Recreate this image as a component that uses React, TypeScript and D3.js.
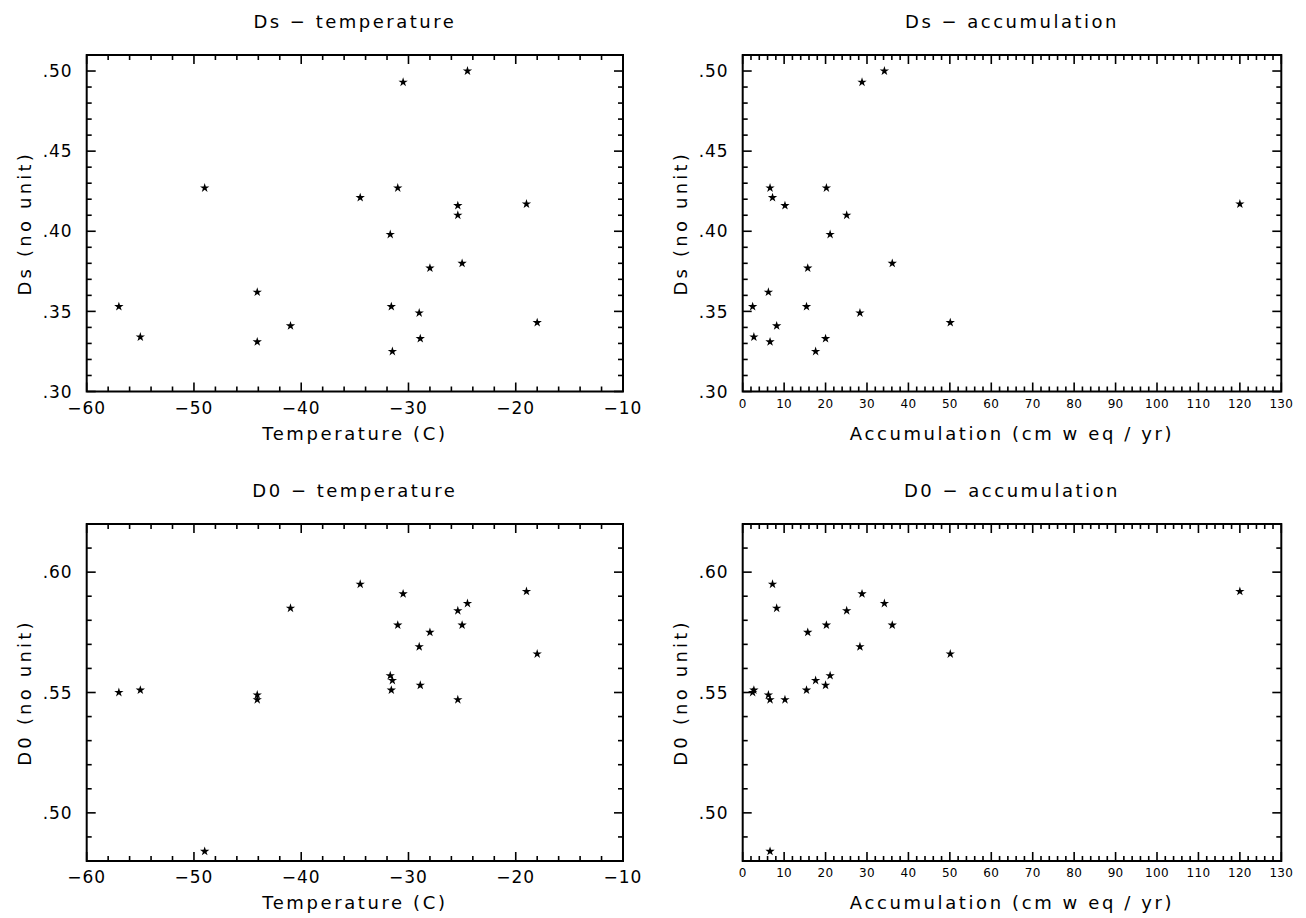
import React from 'react';
import * as d3 from 'd3';

// One entry per site (same order in every array)
const temperature = [-57.0, -55.0, -49.0, -44.1, -44.1, -41.0, -34.5, -31.7, -31.6, -31.5, -31.0, -30.5, -29.0, -28.9, -28.0, -25.4, -25.4, -25.0, -24.5, -19.0, -18.0];
const accumulation = [2.4, 2.7, 6.6, 6.2, 6.6, 8.2, 7.2, 21.1, 15.4, 17.6, 20.2, 28.8, 28.3, 20.0, 15.7, 10.2, 25.1, 36.1, 34.2, 120.0, 50.1];
const dsValues = [0.353, 0.334, 0.427, 0.362, 0.331, 0.341, 0.421, 0.398, 0.353, 0.325, 0.427, 0.493, 0.349, 0.333, 0.377, 0.416, 0.410, 0.380, 0.500, 0.417, 0.343];
const d0Values = [0.550, 0.551, 0.484, 0.549, 0.547, 0.585, 0.595, 0.557, 0.551, 0.555, 0.578, 0.591, 0.569, 0.553, 0.575, 0.547, 0.584, 0.578, 0.587, 0.592, 0.566];

const tempTicks = [-60, -50, -40, -30, -20, -10];
const accTicks = [0, 10, 20, 30, 40, 50, 60, 70, 80, 90, 100, 110, 120, 130];
const dsTicks = [0.30, 0.35, 0.40, 0.45, 0.50];
const d0Ticks = [0.50, 0.55, 0.60];

const FONT = "'DejaVu Sans', sans-serif";

type PanelProps = {
  x0: number; x1: number; y0: number; y1: number;
  xDomain: [number, number]; yDomain: [number, number];
  xMajor: number[]; xMinorStep: number;
  yMajor: number[]; yMinorStep: number;
  xs: number[]; ys: number[];
  title: string; xLabel: string; yLabel: string;
  xTickSize: number;
};

const fmtY = (v: number) => d3.format('.2f')(v).replace(/^0/, '');
const fmtX = d3.format('d');

function Panel(p: PanelProps) {
  const x = d3.scaleLinear().domain(p.xDomain).range([p.x0, p.x1]);
  const y = d3.scaleLinear().domain(p.yDomain).range([p.y1, p.y0]);
  const nx = Math.round((p.xDomain[1] - p.xDomain[0]) / p.xMinorStep);
  const ny = Math.round((p.yDomain[1] - p.yDomain[0]) / p.yMinorStep);
  const xMinor = d3.range(nx + 1).map(i => p.xDomain[0] + i * p.xMinorStep);
  const yMinor = d3.range(ny + 1).map(i => p.yDomain[0] + i * p.yMinorStep);
  const isMajor = (v: number, arr: number[]) => arr.some(m => Math.abs(m - v) < 1e-6);
  const star = d3.symbol(d3.symbolStar, 27)() as string;
  const MAJ = 9, MIN = 5;
  const cx = (p.x0 + p.x1) / 2;
  const cy = (p.y0 + p.y1) / 2;
  const big = p.xTickSize > 14;
  return (
    <g>
      <text x={cx} y={p.y0 - 27} textAnchor="middle" fontSize={18} letterSpacing={2.5} fontFamily={FONT}>{p.title}</text>
      <rect x={p.x0} y={p.y0} width={p.x1 - p.x0} height={p.y1 - p.y0} fill="none" stroke="#000" strokeWidth={2} />
      {xMinor.map((v, i) => {
        const L = isMajor(v, p.xMajor) ? MAJ : MIN;
        const xx = x(v);
        return (
          <g key={'xt' + i}>
            <line x1={xx} x2={xx} y1={p.y1} y2={p.y1 - L} stroke="#000" strokeWidth={1.6} />
            <line x1={xx} x2={xx} y1={p.y0} y2={p.y0 + L} stroke="#000" strokeWidth={1.6} />
          </g>
        );
      })}
      {yMinor.map((v, i) => {
        const L = isMajor(v, p.yMajor) ? MAJ : MIN;
        const yy = y(v);
        return (
          <g key={'yt' + i}>
            <line x1={p.x0} x2={p.x0 + L} y1={yy} y2={yy} stroke="#000" strokeWidth={1.6} />
            <line x1={p.x1} x2={p.x1 - L} y1={yy} y2={yy} stroke="#000" strokeWidth={1.6} />
          </g>
        );
      })}
      {p.xMajor.map((v, i) => (
        <text key={'xl' + i} x={x(v)} y={p.y1 + (big ? 22 : 16)} textAnchor="middle"
          fontSize={big ? 17 : 12} letterSpacing={big ? 1 : 0.3} fontFamily={FONT}>{fmtX(v)}</text>
      ))}
      {p.yMajor.map((v, i) => (
        <text key={'yl' + i} x={p.x0 - 14} y={y(v) + 6.2} textAnchor="end" fontSize={17} letterSpacing={1} fontFamily={FONT}>{fmtY(v)}</text>
      ))}
      <text x={cx} y={p.y1 + 48} textAnchor="middle" fontSize={18} letterSpacing={2.6} fontFamily={FONT}>{p.xLabel}</text>
      <text transform={`translate(${p.x0 - 56},${cy}) rotate(-90)`} textAnchor="middle" fontSize={18} letterSpacing={3.2} fontFamily={FONT}>{p.yLabel}</text>
      {p.xs.map((v, i) => (
        <path key={'pt' + i} d={star} transform={`translate(${x(v)},${y(p.ys[i])})`} fill="#000" />
      ))}
    </g>
  );
}

export default function App() {
  const L = [86.7, 623];
  const R = [742.7, 1281.3];
  const T = [55, 391.5];
  const B = [524, 861];
  return (
    <svg width={1306} height={918} style={{ position: 'absolute', left: 0, top: 0, background: '#fff' }}>
      <rect width={1306} height={918} fill="#fff" />
      <Panel x0={L[0]} x1={L[1]} y0={T[0]} y1={T[1]} xDomain={[-60, -10]} yDomain={[0.30, 0.51]}
        xMajor={tempTicks} xMinorStep={2} yMajor={dsTicks} yMinorStep={0.01}
        xs={temperature} ys={dsValues} title="Ds − temperature" xLabel="Temperature (C)" yLabel="Ds (no unit)" xTickSize={16} />
      <Panel x0={R[0]} x1={R[1]} y0={T[0]} y1={T[1]} xDomain={[0, 130]} yDomain={[0.30, 0.51]}
        xMajor={accTicks} xMinorStep={2} yMajor={dsTicks} yMinorStep={0.01}
        xs={accumulation} ys={dsValues} title="Ds − accumulation" xLabel="Accumulation (cm w eq / yr)" yLabel="Ds (no unit)" xTickSize={12} />
      <Panel x0={L[0]} x1={L[1]} y0={B[0]} y1={B[1]} xDomain={[-60, -10]} yDomain={[0.48, 0.62]}
        xMajor={tempTicks} xMinorStep={2} yMajor={d0Ticks} yMinorStep={0.01}
        xs={temperature} ys={d0Values} title="D0 − temperature" xLabel="Temperature (C)" yLabel="D0 (no unit)" xTickSize={16} />
      <Panel x0={R[0]} x1={R[1]} y0={B[0]} y1={B[1]} xDomain={[0, 130]} yDomain={[0.48, 0.62]}
        xMajor={accTicks} xMinorStep={2} yMajor={d0Ticks} yMinorStep={0.01}
        xs={accumulation} ys={d0Values} title="D0 − accumulation" xLabel="Accumulation (cm w eq / yr)" yLabel="D0 (no unit)" xTickSize={12} />
    </svg>
  );
}
